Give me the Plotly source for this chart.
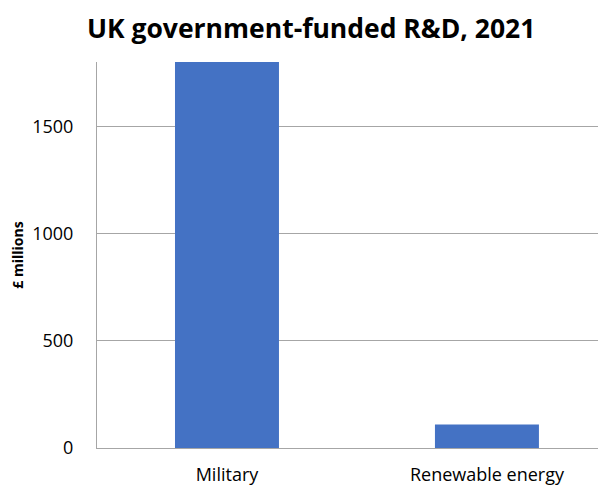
import plotly.graph_objects as go

categories = ["Military", "Renewable energy"]
values = [1800, 110]
y_ticks = [0, 500, 1000, 1500]

fig = go.Figure(go.Bar(
    x=categories, y=values, width=0.4,
    marker=dict(color="#4472C4", line=dict(width=0)),
))

# page body has an 8px margin, so the figure is sized/offset to compensate
fig.update_layout(
    width=598, height=480,
    margin=dict(l=89, r=0, t=54, b=40),
    paper_bgcolor="white", plot_bgcolor="white",
    font=dict(family="Open Sans, Liberation Sans, sans-serif", color="#000000"),
    title=dict(text="<b>UK government-funded R&D, 2021</b>", x=0.507, xanchor="center",
               y=0.957, yanchor="middle", font=dict(size=26.5, color="#000000")),
    showlegend=False,
)
fig.update_xaxes(
    range=[-0.5, 1.458], showline=True, linecolor="#a6a6a6", linewidth=1,
    showgrid=False, tickfont=dict(size=18), ticklabelstandoff=10,
)
fig.update_yaxes(
    range=[0, 1800], tickvals=y_ticks, showgrid=True, gridcolor="#a6a6a6", gridwidth=1,
    showline=True, linecolor="#a6a6a6", linewidth=1, zeroline=False,
    tickfont=dict(size=18), ticklabelstandoff=19,
    title=dict(text="<b>£ millions</b>", font=dict(size=14), standoff=8),
)
fig.write_html("out.html")
